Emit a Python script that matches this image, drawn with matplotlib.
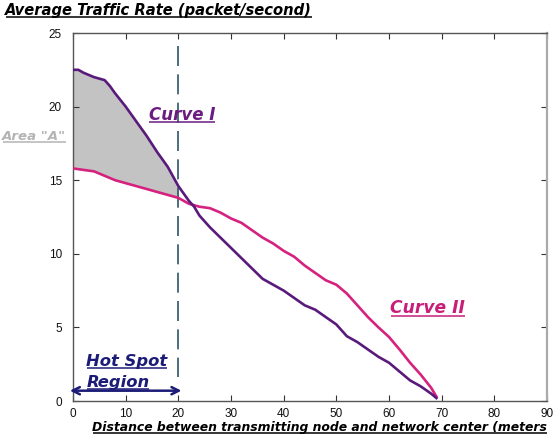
import matplotlib
matplotlib.use("Agg")
import matplotlib.pyplot as plt
from matplotlib.lines import Line2D
import numpy as np

# ---- data ----
x_curve1 = [0, 1, 2, 4, 6, 7, 8, 10, 12, 14, 16, 18, 20, 22, 23, 24, 26, 28, 30, 32, 34, 36, 38, 40,
            42, 44, 46, 48, 50, 52, 54, 56, 58, 60, 62, 64, 66, 68, 69]
y_curve1 = [22.5, 22.5, 22.3, 22.0, 21.8, 21.4, 20.9, 20.0, 19.0, 18.0, 16.9, 15.9, 14.6, 13.6, 13.2, 12.6,
            11.8, 11.1, 10.4, 9.7, 9.0, 8.3, 7.9, 7.5, 7.0, 6.5, 6.2, 5.7, 5.2, 4.4, 4.0, 3.5, 3.0, 2.6,
            2.0, 1.4, 1.0, 0.5, 0.2]
x_curve2 = [0, 2, 4, 6, 8, 10, 12, 14, 16, 18, 20, 22, 24, 26, 28, 30, 32, 34, 36, 38, 40, 42, 44,
            46, 48, 50, 52, 54, 56, 58, 60, 62, 64, 66, 68, 69]
y_curve2 = [15.8, 15.7, 15.6, 15.3, 15.0, 14.8, 14.6, 14.4, 14.2, 14.0, 13.8, 13.4, 13.2, 13.1, 12.8,
            12.4, 12.1, 11.6, 11.1, 10.7, 10.2, 9.8, 9.2, 8.7, 8.2, 7.9, 7.3, 6.5, 5.7, 5.0, 4.35, 3.5,
            2.6, 1.8, 0.9, 0.3]
hot_spot_end = 20
x_ticks = [0, 10, 20, 30, 40, 50, 60, 70, 80, 90]
y_ticks = [0, 5, 10, 15, 20, 25]

title_text = "Average Traffic Rate (packet/second)"
xlabel_text = "Distance between transmitting node and network center (meters"

# ---- figure ----
W, H = 556, 442
fig = plt.figure(figsize=(W / 100, H / 100), dpi=100)
ax = fig.add_axes([73 / W, 1 - 401 / H, (547 - 73) / W, (401 - 33) / H])
ax.set_xlim(0, 90)
ax.set_ylim(0, 25)

c1 = "#5a1a7c"
c2 = "#d6227f"

# shaded area A
xs = np.linspace(0, hot_spot_end, 200)
y1i = np.interp(xs, x_curve1, y_curve1)
y2i = np.interp(xs, x_curve2, y_curve2)
ax.fill_between(xs, y2i, y1i, color="#c3c3c3", lw=0, zorder=1)

ax.plot(x_curve2, y_curve2, color=c2, lw=1.9, zorder=3)
ax.plot(x_curve1, y_curve1, color=c1, lw=1.9, zorder=4)

# dashed hot spot boundary
ax.plot([hot_spot_end, hot_spot_end], [24.1, 1.6], color="#2d5565", lw=1.2,
        linestyle=(0, (12, 5)), zorder=2)

# arrow
ax.annotate("", xy=(-0.6, 0.7), xytext=(hot_spot_end + 0.6, 0.7),
            arrowprops=dict(arrowstyle="<->", color="#1c1c78", lw=1.8,
                            shrinkA=0, shrinkB=0, mutation_scale=13),
            annotation_clip=False, zorder=5)

# ticks and spines
ax.set_xticks(x_ticks)
ax.set_yticks(y_ticks)
ax.tick_params(direction="in", length=4, width=0.8, top=True, right=True,
               labelsize=8.5, colors="#333333", labelcolor="#111111")
ax.tick_params(axis="x", pad=5)
ax.tick_params(axis="y", pad=8)
for lab in ax.get_xticklabels() + ax.get_yticklabels():
    lab.set_fontfamily("Liberation Sans")
for s in ["left", "top", "bottom"]:
    ax.spines[s].set_color("#555555")
    ax.spines[s].set_linewidth(1.0)
ax.spines["right"].set_color("#aaaaaa")
ax.spines["right"].set_linewidth(1.6)

# ---- texts (bold italic, underlined) ----
fkw = dict(family="DejaVu Sans", weight="bold", style="italic", va="baseline", ha="left")
texts = []
texts.append((fig.text(5 / W, 1 - 15 / H, title_text, color="black", fontsize=10.6, **fkw), "black"))
texts.append((fig.text(92 / W, 1 - 431.5 / H, xlabel_text, color="black", fontsize=8.9, **fkw), "black"))
texts.append((ax.text(14.4, 19.1, "Curve I", color="#6a1c80", fontsize=12, **fkw), "#6a1c80"))
texts.append((ax.text(60.2, 5.95, "Curve II", color="#c81e78", fontsize=12.3, **fkw), "#c81e78"))
texts.append((ax.text(2.5, 2.4, "Hot Spot", color="#1c1c78", fontsize=11.8, **fkw), "#1c1c78"))
texts.append((ax.text(2.5, 0.97, "Region", color="#1c1c78", fontsize=11.8, **fkw), "#1c1c78"))
t_area = fig.text(2 / W, 1 - 140 / H, 'Area "A"', color="#b4b4b4", fontsize=9.6, **fkw)
texts.append((t_area, "#b4b4b4"))

fig.canvas.draw()
renderer = fig.canvas.get_renderer()
for t, col in texts:
    bb = t.get_window_extent(renderer)
    xb, yb = t.get_transform().transform(t.get_position())
    fs_px = t.get_fontsize() * 100 / 72
    yu = yb - 0.13 * fs_px
    x0, x1 = bb.x0 + 0.5, min(bb.x1, W)
    fig.add_artist(Line2D([x0 / W, x1 / W], [yu / H, yu / H], transform=fig.transFigure,
                          color=col, lw=1.1, solid_capstyle="butt"))

fig.savefig("out.png", dpi=100)
